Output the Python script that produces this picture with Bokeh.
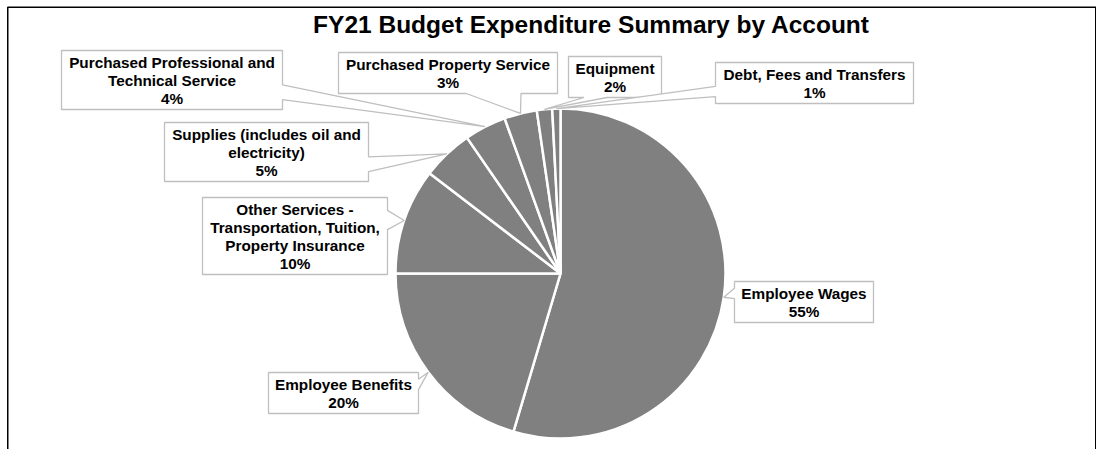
import math
from bokeh.plotting import figure
from bokeh.models import Range1d, ColumnDataSource
from bokeh.embed import file_html
from bokeh.resources import INLINE
from bokeh.core.properties import value

# ---------------- data ----------------
title_text = "FY21 Budget Expenditure Summary by Account"
categories = [
    "Employee Wages",
    "Employee Benefits",
    "Other Services - Transportation, Tuition, Property Insurance",
    "Supplies (includes oil and electricity)",
    "Purchased Professional and Technical Service",
    "Purchased Property Service",
    "Equipment",
    "Debt, Fees and Transfers",
]
shares = [54.6, 20.4, 10.4, 5.0, 4.1, 3.2, 1.5, 0.8]

# ---------------- layout (picture pixels) ----------------
label_lines = [
    ["Employee Wages"],
    ["Employee Benefits"],
    ["Other Services -", "Transportation, Tuition,", "Property Insurance"],
    ["Supplies (includes oil and", "electricity)"],
    ["Purchased Professional and", "Technical Service"],
    ["Purchased Property Service"],
    ["Equipment"],
    ["Debt, Fees and Transfers"],
]
# box: left, top, right, bottom
boxes = [
    (734, 281, 873, 322),
    (268, 372, 418, 413),
    (202, 197, 387, 274),
    (164, 122, 368, 181),
    (61, 50, 282, 109),
    (338, 52, 557, 93),
    (568, 56, 661, 97),
    (715, 62, 913, 103),
]
CX, CY, R = 560, 273, 165
LH, PAD = 18.2, 2.5
FONT = "Liberation Sans"
W, H = 1096, 449

def Y(py):
    return -py

# ---------------- figure ----------------
p = figure(width=W, height=H, x_range=Range1d(0, W), y_range=Range1d(-H, 0),
           output_backend="svg", toolbar_location=None, min_border=0,
           x_axis_location=None, y_axis_location=None)
p.grid.visible = False
p.outline_line_color = None
p.background_fill_color = "white"
p.border_fill_color = "white"

# pie wedges (clockwise from 12 o'clock)
total = sum(shares)
starts, ends, mids = [], [], []
cum = 0.0
for v in shares:
    c0 = cum / total
    cum += v
    c1 = cum / total
    starts.append(math.pi / 2 - 2 * math.pi * c1)
    ends.append(math.pi / 2 - 2 * math.pi * c0)
    mids.append((c0 + c1) / 2)

src = ColumnDataSource(dict(start=starts, end=ends, cat=categories, share=shares))
p.wedge(x=CX, y=Y(CY), radius=R, start_angle="start", end_angle="end",
        fill_color="#808080", line_color="white", line_width=2.5, source=src)

# callouts
def callout(l, t, r, b, tx, ty):
    w = r - l; h = b - t
    hc = (l + r) / 2; vc = (t + b) / 2
    dxp = tx - hc; dyp = ty - vc
    dq = abs(dxp * h) - abs(dyp * w)
    x1 = l + w * (7 if dxp > 0 else 2) / 12
    x2 = l + w * (10 if dxp > 0 else 5) / 12
    y1 = t + h * (7 if dyp > 0 else 2) / 12
    y2 = t + h * (10 if dyp > 0 else 5) / 12
    pts = [(l, t)]
    if dq <= 0 and dyp <= 0:
        pts += [(x1, t), (tx, ty), (x2, t)]
    pts += [(r, t)]
    if dq > 0 and dxp > 0:
        pts += [(r, y1), (tx, ty), (r, y2)]
    pts += [(r, b)]
    if dq <= 0 and dyp > 0:
        pts += [(x2, b), (tx, ty), (x1, b)]
    pts += [(l, b)]
    if dq > 0 and dxp <= 0:
        pts += [(l, y2), (tx, ty), (l, y1)]
    return pts

xs, ys = [], []
tx_, ty_, tt = [], [], []
for i, v in enumerate(shares):
    ang = 2 * math.pi * mids[i]
    tipx = CX + R * math.sin(ang)
    tipy = CY - R * math.cos(ang)
    l, t, r, b = boxes[i]
    pts = callout(l, t, r, b, tipx, tipy)
    xs.append([q[0] for q in pts])
    ys.append([Y(q[1]) for q in pts])
    lines = label_lines[i] + [f"{round(v / total * 100)}%"]
    for k, s in enumerate(lines):
        tx_.append((l + r) / 2)
        ty_.append(Y(t + PAD + LH * (k + 0.5)))
        tt.append(s)

p.patches(xs=xs, ys=ys, fill_color="white", line_color="#bfbfbf", line_width=1.3)
p.text(x=tx_, y=ty_, text=tt, text_font=value(FONT), text_font_style="bold",
       text_font_size="15.3px", text_align="center", text_baseline="middle",
       text_color="black")

# title
p.text(x=[591], y=[Y(24)], text=[title_text], text_font=value(FONT), text_font_style="bold",
       text_font_size="24.5px", text_align="center", text_baseline="middle",
       text_color="black")

# chart border (left, top, right)
p.line(x=[7.25, 7.25, W - 0.75, W - 0.75], y=[-H, -6.75, -6.75, -H],
       line_color="black", line_width=1.5)

open("out.html", "w").write(file_html(p, INLINE))
